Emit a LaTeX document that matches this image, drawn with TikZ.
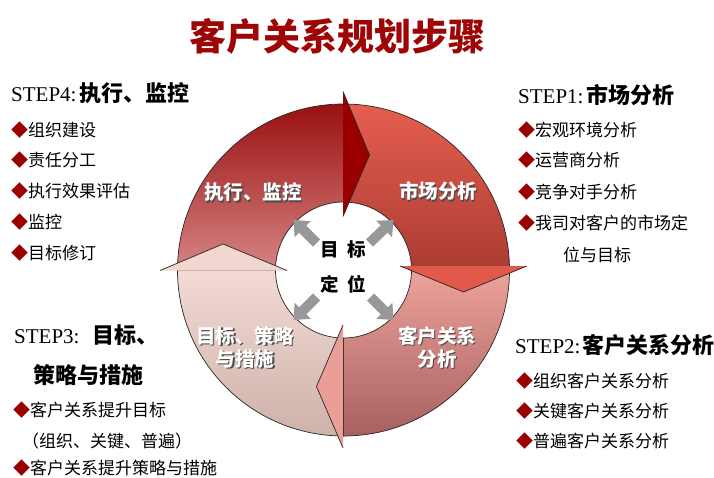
\documentclass[tikz,border=0pt]{standalone}
\usepackage{fontspec}
\setmainfont{Liberation Serif}
\newfontfamily\cjk{Noto Sans CJK SC}
\usetikzlibrary{arrows.meta,calc}
\definecolor{dred}{RGB}{155,0,0}
\definecolor{tred}{RGB}{158,6,6}
\definecolor{tlA}{RGB}{154,16,16}
\definecolor{tlB}{RGB}{214,132,132}
\definecolor{trA}{RGB}{230,94,80}
\definecolor{trB}{RGB}{170,60,50}
\definecolor{brA}{RGB}{237,162,154}
\definecolor{brB}{RGB}{168,96,96}
\definecolor{blA}{RGB}{243,218,212}
\definecolor{blB}{RGB}{205,178,170}
\definecolor{ahR}{RGB}{226,88,74}
\definecolor{ahB}{RGB}{234,158,150}
\definecolor{ahL}{RGB}{242,214,208}
\definecolor{garr}{RGB}{152,152,152}
\newcommand\hzh[1]{{\cjk\bfseries\fontsize{22}{26}\selectfont #1}}
\newcommand\bul{{\color{dred}◆}}
\newcommand\shd[1]{\leavevmode\rlap{\kern1.3pt\raisebox{-1.3pt}{\color{black!70}#1}}#1}
\tikzset{
  body/.style={anchor=west, inner sep=0pt, font=\cjk\fontsize{17}{20}\selectfont},
  head/.style={anchor=west, inner sep=0pt, font=\fontsize{21}{25}\selectfont},
  segtxt/.style={inner sep=0pt, align=center, text=white, font=\cjk\bfseries\fontsize{19.5}{23}\selectfont},
  ctxt/.style={inner sep=0pt, font=\cjk\bfseries\fontsize{18.5}{22}\selectfont},
  ring/.style={draw=black!85, line width=0.7pt},
  aline/.style={draw=black!85, line width=0.7pt, line join=miter},
  garrow/.style={draw=garr, line width=10pt, -{Triangle[length=13pt,width=22pt]}}
}
\begin{document}
\begin{tikzpicture}[x=1pt,y=-1pt]
\useasboundingbox (0,0) rectangle (714,478);
\coordinate (c) at (343.5,270);
% ring segments
\path[ring, top color=trA, bottom color=trB]
  (343.5,104) arc[start angle=270,end angle=360,radius=166]
  -- (411.5,270) arc[start angle=0,end angle=-90,radius=68] -- cycle;
\path[ring, top color=brA, bottom color=brB]
  (509.5,270) arc[start angle=0,end angle=90,radius=166]
  -- (343.5,338) arc[start angle=90,end angle=0,radius=68] -- cycle;
\path[ring, top color=blA, bottom color=blB]
  (343.5,436) arc[start angle=90,end angle=180,radius=166]
  -- (275.5,270) arc[start angle=180,end angle=90,radius=68] -- cycle;
\path[ring, top color=tlA, bottom color=tlB]
  (177.5,270) arc[start angle=180,end angle=270,radius=166]
  -- (343.5,202) arc[start angle=270,end angle=180,radius=68] -- cycle;
% arrow heads
\coordinate (at1) at (343,91.5);  \coordinate (atT) at (369.5,155);  \coordinate (at2) at (343,216.5);
\coordinate (ar1) at (400,266);   \coordinate (arT) at (463.5,292);  \coordinate (ar2) at (527,266);
\coordinate (ab1) at (343,325);   \coordinate (abT) at (316.5,386.5);\coordinate (ab2) at (343,448);
\coordinate (al1) at (160,270.5); \coordinate (alT) at (223,244);    \coordinate (al2) at (287,270.5);
\fill[dred] (at1) -- (atT) -- (at2) -- cycle; \draw[aline] (at1) -- (atT) -- (at2);
\fill[ahR] (ar1) -- (arT) -- (ar2) -- cycle;  \draw[aline] (ar1) -- (arT) -- (ar2);
\fill[ahB] (ab1) -- (abT) -- (ab2) -- cycle;  \draw[aline] (ab1) -- (abT) -- (ab2);
\fill[ahL] (al1) -- (alT) -- (al2) -- cycle;  \draw[aline] (al1) -- (alT) -- (al2);
% centre arrows
\coordinate (g1a) at ($(c)+(26,-27)$); \coordinate (g1b) at ($(c)+(50,-50)$);
\coordinate (g2a) at ($(c)+(27,27)$);  \coordinate (g2b) at ($(c)+(50,50)$);
\coordinate (g3a) at ($(c)+(-27,27)$); \coordinate (g3b) at ($(c)+(-50,50)$);
\coordinate (g4a) at ($(c)+(-27,-27)$);\coordinate (g4b) at ($(c)+(-50,-50)$);
\draw[garrow] (g1a) -- (g1b);
\draw[garrow] (g2a) -- (g2b);
\draw[garrow] (g3a) -- (g3b);
\draw[garrow] (g4a) -- (g4b);
\node[ctxt] (ct1) at (343.5,249) {目\hspace{9pt}标};
\node[ctxt] (ct2) at (343.5,284) {定\hspace{9pt}位};
% segment labels
\node[segtxt] (q1) at (438,192) {\shd{市场分析}};
\node[segtxt] (q2) at (437,348) {\shd{客户关系}\\\shd{分析}};
\node[segtxt] (q3) at (245,348) {\shd{目标、策略}\\\shd{与措施}};
\node[segtxt] (q4) at (253,193) {\shd{执行、监控}};
% title
\node[inner sep=0pt, text=tred, font=\cjk\bfseries\fontsize{37}{42}\selectfont] (title) at (337,36) {客户关系规划步骤};
% STEP4
\node[head] (s4) at (11,93) {STEP4:\hspace{3pt}\hzh{执行、监控}};
\node[body] (s4a) at (11,130) {\bul 组织建设};
\node[body] (s4b) at (11,160) {\bul 责任分工};
\node[body] (s4c) at (11,191) {\bul 执行效果评估};
\node[body] (s4d) at (11,222) {\bul 监控};
\node[body] (s4e) at (11,253) {\bul 目标修订};
% STEP1
\node[head] (s1) at (518,95) {STEP1:\hspace{3pt}\hzh{市场分析}};
\node[body] (s1a) at (518,130) {\bul 宏观环境分析};
\node[body] (s1b) at (518,160) {\bul 运营商分析};
\node[body] (s1c) at (518,192) {\bul 竞争对手分析};
\node[body] (s1d) at (518,223) {\bul 我司对客户的市场定};
\node[body] (s1e) at (563,255) {位与目标};
% STEP2
\node[head] (s2) at (515,345) {STEP2:\hspace{2pt}\hzh{客户关系分析}};
\node[body] (s2a) at (516,381) {\bul 组织客户关系分析};
\node[body] (s2b) at (516,411) {\bul 关键客户关系分析};
\node[body] (s2c) at (516,441) {\bul 普遍客户关系分析};
% STEP3
\node[head] (s3) at (14,335) {STEP3:\hspace{13pt}\hzh{目标、}};
\node[head] (s3b) at (33,375) {\hzh{策略与措施}};
\node[body] (s3c) at (13,410) {\bul 客户关系提升目标};
\node[body] (s3d) at (22,441) {（组织、关键、普遍）};
\node[body] (s3e) at (13,468) {\bul 客户关系提升策略与措施};
\end{tikzpicture}
\end{document}
